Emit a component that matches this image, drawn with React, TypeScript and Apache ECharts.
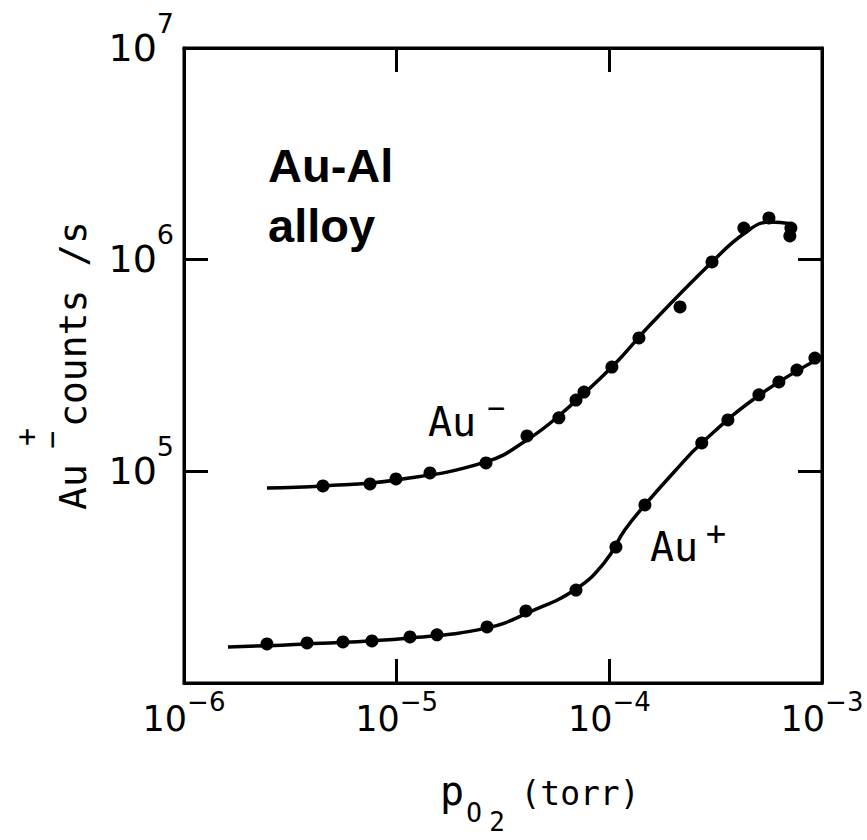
import React, { useEffect, useRef } from "react";
import * as echarts from "echarts";

// ---- data (p_O2 in torr, counts/s) ----
const auMinusX = [4.5e-6, 7.49e-6, 9.92e-6, 1.434e-5, 2.63e-5, 4.1e-5, 5.79e-5, 6.97e-5, 7.6e-5, 1.028e-4, 1.378e-4, 2.15e-4, 3.04e-4, 4.29e-4, 5.63e-4, 7.14e-4, 7.06e-4];
const auMinusY = [8.53e4, 8.72e4, 9.21e4, 9.83e4, 1.096e5, 1.47e5, 1.79e5, 2.17e5, 2.37e5, 3.11e5, 4.27e5, 5.98e5, 9.75e5, 1.41e6, 1.574e6, 1.41e6, 1.294e6];

const auPlusX = [2.455e-6, 3.79e-6, 5.59e-6, 7.65e-6, 1.155e-5, 1.547e-5, 2.66e-5, 4.05e-5, 6.97e-5, 1.074e-4, 1.47e-4, 2.72e-4, 3.61e-4, 5.05e-4, 6.27e-4, 7.62e-4, 9.26e-4];
const auPlusY = [1.53e4, 1.547e4, 1.564e4, 1.581e4, 1.651e4, 1.688e4, 1.84e4, 2.19e4, 2.75e4, 4.39e4, 6.94e4, 1.362e5, 1.749e5, 2.3e5, 2.645e5, 3.01e5, 3.43e5];

const fitMinusX = [2.455e-6, 4.5e-6, 9.92e-6, 2.63e-5, 4.1e-5, 5.86e-5, 1.028e-4, 1.552e-4, 3.04e-4, 4.34e-4, 5.69e-4, 7.3e-4];
const fitMinusY = [8.35e4, 8.53e4, 9.11e4, 1.108e5, 1.407e5, 1.847e5, 3.11e5, 4.91e5, 9.75e5, 1.337e6, 1.507e6, 1.474e6];

const fitPlusX = [1.61e-6, 3.79e-6, 1.155e-5, 2.66e-5, 4.23e-5, 6.97e-5, 9.53e-5, 1.184e-4, 1.47e-4, 2.035e-4, 2.72e-4, 5.1e-4, 1.0e-3];
const fitPlusY = [1.481e4, 1.53e4, 1.633e4, 1.821e4, 2.167e4, 2.782e4, 3.73e4, 5.29e4, 6.94e4, 1.004e5, 1.362e5, 2.3e5, 3.47e5];

const xMin = 1e-6;
const xMax = 1e-3;
const yMin = 1e4;
const yMax = 1e7;
const yLabelExponents = [5, 6, 7];

const zip = (xs: number[], ys: number[]) => xs.map((x, i) => [x, ys[i]]);

const DIGITS = '"DejaVu Sans", sans-serif';
const MONO = '"DejaVu Sans Mono", monospace';

export default function App() {
  const ref = useRef<HTMLDivElement>(null);

  useEffect(() => {
    if (!ref.current) return;
    const chart = echarts.init(ref.current, null, { renderer: "svg" });

    const axisLine = { show: true, lineStyle: { color: "#000", width: 3 } };
    const axisTick = { show: true, inside: true, length: 24, lineStyle: { color: "#000", width: 3 } };

    const option: any = {
      animation: false,
      backgroundColor: "#fff",
      grid: { left: 184, top: 48, right: 45, bottom: 157, show: true, borderColor: "#000", borderWidth: 3 },
      xAxis: [
        {
          type: "log",
          logBase: 10,
          min: xMin,
          max: xMax,
          position: "bottom",
          axisLine,
          axisTick,
          splitLine: { show: false },
          minorTick: { show: false },
          axisLabel: {
            margin: 6,
            color: "#000",
            formatter: (v: number) => {
              const e = Math.round(Math.log10(v));
              return `{b|10}{s|${e < 0 ? "−" : ""}${Math.abs(e)}}`;
            },
            rich: {
              b: { fontSize: 35, fontFamily: DIGITS, color: "#000", verticalAlign: "bottom", padding: [12, 0, 0, 0] },
              s: { fontSize: 26, fontFamily: DIGITS, color: "#000", verticalAlign: "top" },
            },
          },
        },
        {
          type: "log",
          logBase: 10,
          min: xMin,
          max: xMax,
          position: "top",
          axisLine,
          axisTick,
          splitLine: { show: false },
          axisLabel: { show: false },
        },
      ],
      yAxis: [
        {
          type: "log",
          logBase: 10,
          min: yMin,
          max: yMax,
          position: "left",
          axisLine,
          axisTick,
          splitLine: { show: false },
          minorTick: { show: false },
          axisLabel: {
            margin: 10,
            color: "#000",
            formatter: (v: number) => {
              const e = Math.round(Math.log10(v));
              if (!yLabelExponents.includes(e)) return "";
              return `{b|10}{s|${e}}`;
            },
            rich: {
              b: { fontSize: 38, fontFamily: DIGITS, color: "#000", verticalAlign: "bottom", padding: [0, 0, 20, 0] },
              s: { fontSize: 27, fontFamily: DIGITS, color: "#000", verticalAlign: "top", padding: [0, 0, 50, 0] },
            },
          },
        },
        {
          type: "log",
          logBase: 10,
          min: yMin,
          max: yMax,
          position: "right",
          axisLine,
          axisTick,
          splitLine: { show: false },
          axisLabel: { show: false },
        },
      ],
      series: [
        {
          name: "Au− fit",
          type: "line",
          data: zip(fitMinusX, fitMinusY),
          smooth: 0.45,
          showSymbol: false,
          symbol: "none",
          lineStyle: { color: "#000", width: 3.5 },
          z: 2,
        },
        {
          name: "Au+ fit",
          type: "line",
          data: zip(fitPlusX, fitPlusY),
          smooth: 0.45,
          showSymbol: false,
          symbol: "none",
          lineStyle: { color: "#000", width: 3.5 },
          z: 2,
        },
        {
          name: "Au−",
          type: "scatter",
          data: zip(auMinusX, auMinusY),
          symbol: "circle",
          symbolSize: 13,
          itemStyle: { color: "#000", opacity: 1 },
          z: 3,
        },
        {
          name: "Au+",
          type: "scatter",
          data: zip(auPlusX, auPlusY),
          symbol: "circle",
          symbolSize: 13,
          itemStyle: { color: "#000", opacity: 1 },
          z: 3,
        },
      ],
      graphic: [
        {
          type: "text",
          x: 268,
          y: 135,
          style: {
            text: "Au-Al\nalloy",
            font: 'bold 47px "Liberation Sans", Arial, sans-serif',
            fill: "#000",
            lineHeight: 60,
            align: "left",
            verticalAlign: "top",
          },
        },
        // Au− annotation
        { type: "text", x: 428, y: 422, style: { text: "Au", font: `40px ${MONO}`, fill: "#000", align: "left", verticalAlign: "middle" } },
        { type: "text", x: 496, y: 407, style: { text: "−", font: `30px ${MONO}`, fill: "#000", align: "center", verticalAlign: "middle" } },
        // Au+ annotation
        { type: "text", x: 650, y: 547, style: { text: "Au", font: `40px ${MONO}`, fill: "#000", align: "left", verticalAlign: "middle" } },
        { type: "text", x: 716, y: 533, style: { text: "+", font: `34px ${MONO}`, fill: "#000", align: "center", verticalAlign: "middle" } },
        // y-axis title (rotated)
        {
          type: "group",
          x: 73,
          y: 510,
          rotation: Math.PI / 2,
          children: [
            { type: "text", x: 0, y: 0, style: { text: "Au", font: `38px ${MONO}`, fill: "#000", align: "left", verticalAlign: "middle" } },
            { type: "text", x: 73, y: -47, style: { text: "+", font: `30px ${MONO}`, fill: "#000", align: "center", verticalAlign: "middle" } },
            { type: "text", x: 70, y: -22, style: { text: "−", font: `30px ${MONO}`, fill: "#000", align: "center", verticalAlign: "middle" } },
            { type: "text", x: 83, y: 0, style: { text: "counts /s", font: `38px ${MONO}`, fill: "#000", align: "left", verticalAlign: "middle" } },
          ],
        },
        // x-axis title
        { type: "text", x: 452, y: 791, style: { text: "p", font: `40px ${MONO}`, fill: "#000", align: "center", verticalAlign: "middle" } },
        { type: "text", x: 474, y: 813, style: { text: "O", font: `26px ${MONO}`, fill: "#000", align: "center", verticalAlign: "middle" } },
        { type: "text", x: 497, y: 822, style: { text: "2", font: `26px ${MONO}`, fill: "#000", align: "center", verticalAlign: "middle" } },
        { type: "text", x: 580, y: 793, style: { text: "(torr)", font: `33px ${MONO}`, fill: "#000", align: "center", verticalAlign: "middle" } },
      ],
    };

    chart.setOption(option);
    return () => chart.dispose();
  }, []);

  return (
    <div
      ref={ref}
      style={{ position: "absolute", left: 0, top: 0, width: 867, height: 840, background: "#fff" }}
    />
  );
}
